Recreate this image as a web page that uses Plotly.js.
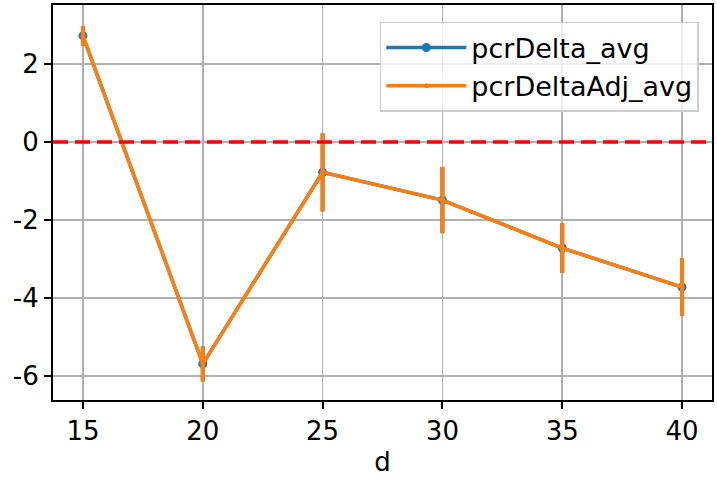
<!DOCTYPE html>
<html>
<head>
<meta charset="utf-8">
<script src="https://cdn.plot.ly/plotly-3.0.1.min.js"></script>
<style>html,body{margin:0;padding:0;background:#fff;}#chart{width:717px;height:478px;}</style>
</head>
<body>
<div id="chart"></div>
<script>
const dValues = [15, 20, 25, 30, 35, 40];
const pcrDeltaAvg = [2.72, -5.69, -0.78, -1.49, -2.72, -3.72];
const pcrDeltaErr = [0.25, 0.45, 1.0, 0.85, 0.64, 0.74];
const pcrDeltaAdjAvg = [2.72, -5.69, -0.78, -1.49, -2.72, -3.72];
const pcrDeltaAdjErr = [0.25, 0.45, 1.0, 0.85, 0.64, 0.74];
const xTicks = [15, 20, 25, 30, 35, 40];
const yTicks = [-6, -4, -2, 0, 2];

const font = {family: 'DejaVu Sans', size: 26, color: '#000'};

const traces = [
  {
    x: dValues, y: pcrDeltaAvg, name: 'pcrDelta_avg', type: 'scatter', mode: 'lines+markers',
    legendgroup: 'a',
    line: {color: '#1f77b4', width: 3.5}, marker: {color: '#1f77b4', size: 9},
    error_y: {type: 'data', array: pcrDeltaErr, visible: true, color: '#1f77b4', thickness: 4, width: 0}
  },
  {
    x: dValues, y: pcrDeltaAdjAvg, name: 'pcrDeltaAdj_avg', type: 'scatter', mode: 'lines+markers',
    legendgroup: 'b',
    line: {color: '#ff7f0e', width: 3.5}, marker: {color: '#ff7f0e', size: 5},
    error_y: {type: 'data', array: pcrDeltaAdjErr, visible: true, color: '#ff7f0e', thickness: 4, width: 0}
  }
];

const layout = {
  width: 717, height: 478,
  margin: {l: 53, r: 5, t: 5, b: 78},
  paper_bgcolor: '#fff', plot_bgcolor: '#fff',
  font: font,
  showlegend: true,
  legend: {
    x: 0.980, y: 0.957, xanchor: 'right', yanchor: 'top',
    bgcolor: 'rgba(255,255,255,0.8)', bordercolor: '#cccccc', borderwidth: 1.5,
    font: {family: 'DejaVu Sans', size: 27, color: '#000'},
    itemwidth: 80, tracegroupgap: 0
  },
  xaxis: {
    range: [13.75, 41.25], tickvals: xTicks, ticktext: xTicks.map(String),
    showgrid: true, gridcolor: '#b0b0b0', gridwidth: 1.5,
    showline: true, linecolor: '#000', linewidth: 2, mirror: true,
    ticks: 'outside', ticklen: 7, tickwidth: 2, tickcolor: '#000',
    zeroline: false,
    title: {text: 'd', font: {family: 'DejaVu Sans', size: 26, color: '#000'}, standoff: 8},
    tickfont: font
  },
  yaxis: {
    range: [-6.615, 3.51], tickvals: yTicks, ticktext: yTicks.map(String),
    showgrid: true, gridcolor: '#b0b0b0', gridwidth: 1.5,
    showline: true, linecolor: '#000', linewidth: 2, mirror: true,
    ticks: 'outside', ticklen: 7, tickwidth: 2, tickcolor: '#000',
    zeroline: false,
    tickfont: font
  },
  shapes: [{
    type: 'line', xref: 'paper', x0: 0, x1: 1, yref: 'y', y0: 0, y1: 0,
    line: {color: 'red', width: 3.5, dash: '15px,7px'}, layer: 'above'
  }]
};

Plotly.newPlot('chart', traces, layout, {displayModeBar: false, staticPlot: true});
</script>
</body>
</html>
